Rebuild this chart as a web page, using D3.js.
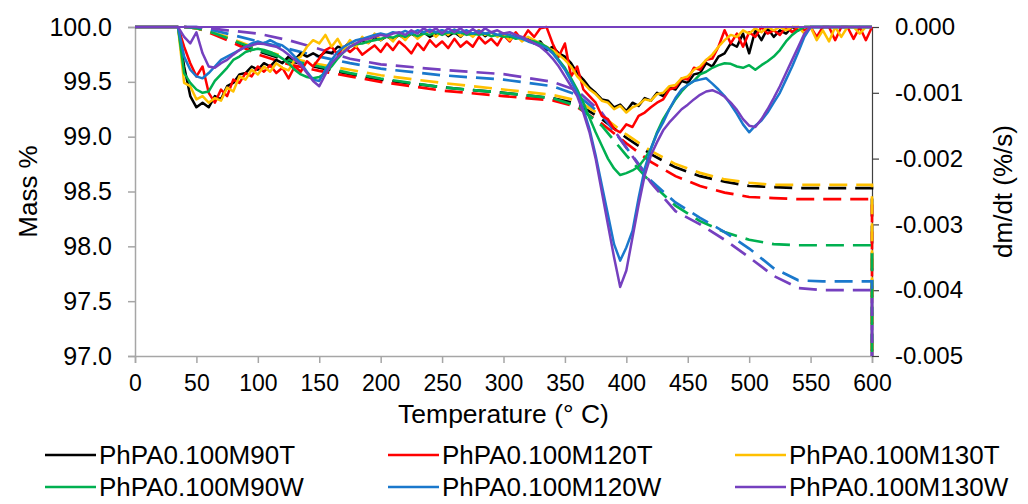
<!DOCTYPE html>
<html>
<head>
<meta charset="utf-8">
<script src="https://cdn.jsdelivr.net/npm/d3@7"></script>
<style>
  body { margin: 0; background: #fff; }
  svg { font-family: "Liberation Sans", Arial, sans-serif; }
  .tick text { fill: #000; }
</style>
</head>
<body>
<div id="chart"></div>
<script>
// TGA (dashed, left axis) + DTG (solid, right axis) for six PhPA samples.

const seriesNames = ["PhPA0.100M90T", "PhPA0.100M120T", "PhPA0.100M130T",
                     "PhPA0.100M90W", "PhPA0.100M120W", "PhPA0.100M130W"];
const seriesColors = ["#000000", "#ff0000", "#ffc000", "#00b050", "#1a78cc", "#7540bf"];

const xTicks = [0, 50, 100, 150, 200, 250, 300, 350, 400, 450, 500, 550, 600];
const massTicks = [97.0, 97.5, 98.0, 98.5, 99.0, 99.5, 100.0];
const dtgTicks = [0, -0.001, -0.002, -0.003, -0.004, -0.005];

// Mass % read at these temperatures (last point: drop at end of run)
const tgTemps = [40, 50, 60, 75, 100, 125, 150, 175, 200, 250, 300, 340, 360, 380, 400,
                 420, 440, 460, 480, 500, 520, 540, 560, 600, 600];
const mass90T  = [100, 99.99, 99.96, 99.9, 99.78, 99.69, 99.63, 99.57, 99.52, 99.45, 99.4, 99.35, 99.3, 99.16, 98.99, 98.84, 98.72, 98.64, 98.59, 98.55, 98.54, 98.53, 98.53, 98.53, 96.8];
const mass120T = [100, 99.99, 99.95, 99.88, 99.75, 99.66, 99.6, 99.55, 99.5, 99.42, 99.37, 99.33, 99.27, 99.12, 98.94, 98.77, 98.64, 98.55, 98.49, 98.45, 98.44, 98.43, 98.43, 98.43, 96.8];
const mass130T = [100, 99.99, 99.96, 99.91, 99.8, 99.72, 99.66, 99.61, 99.56, 99.49, 99.43, 99.38, 99.33, 99.19, 99.02, 98.87, 98.75, 98.67, 98.61, 98.58, 98.56, 98.56, 98.56, 98.56, 96.8];
const mass90W  = [100, 99.99, 99.96, 99.9, 99.79, 99.7, 99.64, 99.58, 99.53, 99.45, 99.4, 99.35, 99.28, 99.1, 98.83, 98.58, 98.37, 98.23, 98.13, 98.06, 98.02, 98.01, 98.01, 98.01, 96.8];
const mass120W = [100, 100, 99.98, 99.94, 99.87, 99.8, 99.73, 99.67, 99.62, 99.56, 99.52, 99.46, 99.38, 99.2, 98.9, 98.6, 98.4, 98.26, 98.13, 97.98, 97.8, 97.69, 97.68, 97.68, 96.8];
const mass130W = [100, 100, 99.99, 99.97, 99.94, 99.88, 99.8, 99.71, 99.66, 99.61, 99.57, 99.5, 99.42, 99.22, 98.9, 98.58, 98.32, 98.2, 98.06, 97.9, 97.73, 97.62, 97.6, 97.6, 96.8];

// dm/dt sampled every 5 °C from 0 to 600, in units of 0.001 %/s
const dtgStep = 5;
const DTG_UNIT = 0.001;
const dtg90T = [0,0,0,0,0,0,0,0,
  -0.6,-1.05,-1.22,-1.15,-1.22,-1.05,-1.1,-0.9,-0.85,-0.72,
  -0.7,-0.6,-0.65,-0.55,-0.6,-0.5,-0.55,-0.45,-0.5,-0.4,
  -0.45,-0.4,-0.45,-0.38,-0.4,-0.3,-0.32,-0.22,-0.28,-0.2,
  -0.24,-0.15,-0.2,-0.14,-0.2,-0.12,-0.18,-0.1,-0.16,-0.08,
  -0.15,-0.1,-0.05,-0.14,-0.08,-0.15,-0.06,-0.12,-0.05,-0.14,
  -0.08,-0.13,-0.1,-0.18,-0.12,-0.2,-0.16,-0.25,-0.22,-0.35,
  -0.3,-0.4,-0.45,-0.55,-0.7,-0.8,-0.92,-1.0,-1.1,-1.12,
  -1.22,-1.18,-1.28,-1.15,-1.2,-1.08,-1.12,-1.0,-1.05,-0.92,
  -0.95,-0.82,-0.85,-0.72,-0.7,-0.55,-0.6,-0.45,-0.4,-0.25,
  -0.3,-0.1,-0.4,-0.05,-0.2,-0.02,-0.15,-0.05,-0.1,0,
  -0.05,0,0,0,0,0,0,0,0,0,
  0,0,0];
const dtg120T = [0,0,0,0,0,0,0,0,
  -0.3,-0.55,-0.75,-0.6,-1.0,-1.15,-0.95,-1.05,-0.8,-0.85,
  -0.7,-0.75,-0.6,-0.68,-0.58,-0.7,-0.62,-0.78,-0.6,-0.68,
  -0.52,-0.6,-0.48,-0.35,-0.3,-0.42,-0.3,-0.38,-0.3,-0.42,
  -0.35,-0.28,-0.38,-0.25,-0.35,-0.22,-0.3,-0.4,-0.25,-0.35,
  -0.2,-0.3,-0.22,-0.32,-0.18,-0.3,-0.22,-0.3,-0.15,-0.25,
  -0.18,-0.28,-0.12,-0.22,-0.08,-0.2,-0.05,-0.15,-0.02,0,
  -0.25,-0.45,-0.25,-0.75,-0.6,-0.95,-1.05,-1.15,-1.35,-1.4,
  -1.55,-1.6,-1.48,-1.52,-1.35,-1.3,-1.22,-1.15,-1.1,-0.95,
  -0.92,-0.78,-0.8,-0.62,-0.65,-0.5,-0.48,-0.3,-0.05,-0.25,
  -0.1,-0.3,-0.08,-0.15,0,-0.1,-0.05,-0.12,0,-0.08,
  0,-0.05,0,-0.15,0,0,-0.2,0,0,-0.18,
  0,-0.2,0];
const dtg130T = [0,0,0,0,0,0,0,0,
  -0.85,-0.9,-1.1,-1.05,-1.15,-1.08,-1.12,-0.92,-0.98,-0.75,
  -0.8,-0.65,-0.72,-0.6,-0.68,-0.55,-0.62,-0.66,-0.5,-0.45,
  -0.3,-0.2,-0.25,-0.12,-0.3,-0.18,-0.35,-0.2,-0.3,-0.15,
  -0.25,-0.1,-0.2,-0.12,-0.22,-0.1,-0.2,-0.08,-0.18,-0.1,
  -0.05,-0.15,-0.06,-0.12,-0.04,-0.14,-0.08,-0.15,-0.05,-0.12,
  -0.08,-0.15,-0.1,-0.2,-0.12,-0.22,-0.15,-0.2,-0.25,-0.3,
  -0.35,-0.42,-0.5,-0.6,-0.75,-0.85,-0.95,-1.02,-1.12,-1.15,
  -1.25,-1.2,-1.3,-1.22,-1.18,-1.1,-1.12,-1.02,-1.0,-0.9,
  -0.88,-0.78,-0.75,-0.65,-0.6,-0.5,-0.42,-0.3,-0.2,-0.12,
  -0.15,-0.05,-0.1,-0.02,-0.08,0,-0.05,0,-0.05,0,
  0,-0.1,0,-0.2,-0.05,-0.22,0,-0.15,0,0,
  -0.1,0,0];
const dtg90W = [0,0,0,0,0,0,0,0,
  -0.7,-0.85,-0.95,-1.0,-0.98,-0.82,-0.72,-0.62,-0.5,-0.45,
  -0.38,-0.35,-0.33,-0.35,-0.38,-0.42,-0.48,-0.55,-0.65,-0.72,
  -0.76,-0.78,-0.76,-0.7,-0.6,-0.48,-0.38,-0.3,-0.26,-0.25,
  -0.22,-0.2,-0.18,-0.15,-0.16,-0.12,-0.15,-0.1,-0.14,-0.1,
  -0.12,-0.08,-0.12,-0.08,-0.1,-0.08,-0.12,-0.1,-0.12,-0.1,
  -0.14,-0.12,-0.15,-0.14,-0.18,-0.16,-0.2,-0.22,-0.25,-0.3,
  -0.38,-0.5,-0.62,-0.78,-0.95,-1.15,-1.38,-1.6,-1.8,-2.0,
  -2.15,-2.25,-2.22,-2.18,-2.12,-2.0,-1.85,-1.6,-1.4,-1.25,
  -1.1,-0.98,-0.88,-0.82,-0.72,-0.68,-0.62,-0.58,-0.55,-0.56,
  -0.6,-0.62,-0.58,-0.65,-0.58,-0.52,-0.45,-0.35,-0.22,-0.12,
  -0.05,0,0,0,0,0,0,0,0,0,
  0,0,0];
const dtg120W = [0,0,0,0,0,0,0,0,
  -0.45,-0.65,-0.75,-0.78,-0.7,-0.6,-0.5,-0.45,-0.4,-0.35,
  -0.3,-0.25,-0.22,-0.25,-0.2,-0.25,-0.28,-0.35,-0.45,-0.55,
  -0.68,-0.8,-0.82,-0.65,-0.5,-0.38,-0.3,-0.25,-0.2,-0.18,
  -0.15,-0.12,-0.1,-0.12,-0.08,-0.1,-0.06,-0.1,-0.05,-0.08,
  -0.04,-0.08,-0.05,-0.08,-0.04,-0.08,-0.05,-0.1,-0.06,-0.1,
  -0.08,-0.12,-0.1,-0.12,-0.15,-0.18,-0.22,-0.25,-0.28,-0.32,
  -0.4,-0.52,-0.65,-0.82,-1.0,-1.25,-1.55,-1.95,-2.4,-2.85,
  -3.3,-3.55,-3.35,-3.1,-2.6,-2.15,-1.85,-1.62,-1.45,-1.25,
  -1.08,-0.95,-0.88,-0.82,-0.8,-0.78,-0.86,-0.95,-1.05,-1.18,
  -1.32,-1.48,-1.6,-1.5,-1.42,-1.3,-1.15,-1.0,-0.8,-0.6,
  -0.38,-0.15,0,0,0,0,0,0,0,0,
  0,0,0];
const dtg130W = [0,0,0,0,0,0,0,0,
  -0.15,-0.25,-0.08,-0.4,-0.6,-0.62,-0.55,-0.5,-0.42,-0.35,
  -0.3,-0.28,-0.25,-0.26,-0.28,-0.3,-0.35,-0.42,-0.5,-0.58,
  -0.7,-0.82,-0.9,-0.72,-0.55,-0.45,-0.38,-0.3,-0.25,-0.2,
  -0.18,-0.15,-0.12,-0.14,-0.1,-0.08,-0.12,-0.05,-0.1,-0.02,
  -0.08,-0.02,-0.1,-0.02,-0.08,-0.02,-0.1,-0.03,-0.1,-0.02,
  -0.08,-0.05,-0.1,-0.08,-0.12,-0.15,-0.2,-0.25,-0.3,-0.38,
  -0.48,-0.6,-0.75,-0.9,-1.05,-1.3,-1.6,-2.0,-2.5,-3.0,
  -3.5,-3.95,-3.7,-3.2,-2.7,-2.25,-1.95,-1.75,-1.57,-1.45,
  -1.35,-1.25,-1.18,-1.1,-1.03,-0.98,-0.96,-1.0,-1.06,-1.15,
  -1.26,-1.4,-1.5,-1.52,-1.4,-1.25,-1.08,-0.9,-0.7,-0.5,
  -0.3,-0.1,0,0,0,0,0,0,0,0,
  0,0,0];

const massSeries = [mass90T, mass120T, mass130T, mass90W, mass120W, mass130W];
const dtgSeries = [dtg90T, dtg120T, dtg130T, dtg90W, dtg120W, dtg130W];

const width = 1028, height = 504;
const margin = { top: 27, right: 156, bottom: 148, left: 135 };
const plotW = width - margin.left - margin.right;
const plotH = height - margin.top - margin.bottom;

const svg = d3.select("#chart").append("svg")
  .attr("width", width)
  .attr("height", height);

const x = d3.scaleLinear().domain([0, 600]).range([0, plotW]);
const yMass = d3.scaleLinear().domain([97, 100]).range([plotH, 0]);
const yDtg = d3.scaleLinear().domain([-0.005, 0]).range([plotH, 0]);

const g = svg.append("g")
  .attr("transform", `translate(${margin.left},${margin.top})`);

svg.append("defs").append("clipPath").attr("id", "plotClip")
  .append("rect")
  .attr("x", margin.left - 2).attr("y", margin.top - 3)
  .attr("width", plotW + 4).attr("height", plotH + 3);

// axes
const xAxis = g.append("g")
  .attr("transform", `translate(0,${plotH})`)
  .call(d3.axisBottom(x).tickValues(xTicks).tickSize(7).tickPadding(12).tickFormat(d3.format("d")));
xAxis.selectAll("text").attr("font-size", 23);

const leftAxis = g.append("g")
  .call(d3.axisLeft(yMass).tickValues(massTicks).tickSize(7).tickPadding(16).tickFormat(d3.format(".1f")));
leftAxis.selectAll("text").attr("font-size", 25);

const rightAxis = g.append("g")
  .attr("transform", `translate(${plotW},0)`)
  .call(d3.axisRight(yDtg).tickValues(dtgTicks).tickSize(7).tickPadding(16).tickFormat(d => d.toFixed(3)));
rightAxis.selectAll("text").attr("font-size", 24);

[xAxis, leftAxis].forEach(a => a.selectAll("path, line").attr("stroke", "#a6a6a6").attr("stroke-width", 1.5));
rightAxis.selectAll("path, line").attr("stroke", "#404040").attr("stroke-width", 1.2);

// plot lines
const lines = svg.append("g").attr("clip-path", "url(#plotClip)")
  .append("g").attr("transform", `translate(${margin.left},${margin.top})`);

const massLine = d3.line().x(d => x(d[0])).y(d => yMass(d[1]));
const dtgLine = d3.line().x(d => x(d[0])).y(d => yDtg(d[1]));

massSeries.forEach((vals, i) => {
  lines.append("path")
    .datum(vals.map((v, j) => [tgTemps[j], v]))
    .attr("d", massLine)
    .attr("fill", "none")
    .attr("stroke", seriesColors[i])
    .attr("stroke-width", 2.7)
    .attr("stroke-dasharray", "18,9");
});

dtgSeries.forEach((vals, i) => {
  lines.append("path")
    .datum(vals.map((v, j) => [j * dtgStep, v * DTG_UNIT]))
    .attr("d", dtgLine)
    .attr("fill", "none")
    .attr("stroke", seriesColors[i])
    .attr("stroke-width", 2.5)
    .attr("stroke-linejoin", "round");
});

// zero line of the derivative axis (drawn in the last series colour)
lines.append("line")
  .attr("x1", x(0)).attr("x2", x(600))
  .attr("y1", yDtg(0)).attr("y2", yDtg(0))
  .attr("stroke", seriesColors[5])
  .attr("stroke-width", 2);

// axis titles
svg.append("text")
  .attr("x", margin.left + plotW / 2)
  .attr("y", 423)
  .attr("text-anchor", "middle")
  .attr("font-size", 26.5)
  .text("Temperature (° C)");

svg.append("text")
  .attr("transform", `translate(37,${margin.top + plotH / 2}) rotate(-90)`)
  .attr("text-anchor", "middle")
  .attr("font-size", 26)
  .text("Mass %");

svg.append("text")
  .attr("transform", `translate(1012,${margin.top + plotH / 2}) rotate(-90)`)
  .attr("text-anchor", "middle")
  .attr("font-size", 26)
  .text("dm/dt (%/s)");

// legend
const legendCols = [45, 388, 735];
const legendRows = [455, 487];
const legend = svg.append("g");
seriesNames.forEach((name, i) => {
  const lx = legendCols[i % 3];
  const ly = legendRows[Math.floor(i / 3)];
  legend.append("line")
    .attr("x1", lx).attr("x2", lx + 51)
    .attr("y1", ly).attr("y2", ly)
    .attr("stroke", seriesColors[i])
    .attr("stroke-width", 2.5);
  legend.append("text")
    .attr("x", lx + 54)
    .attr("y", ly)
    .attr("dy", "0.36em")
    .attr("font-size", 26)
    .text(name);
});
</script>
</body>
</html>
